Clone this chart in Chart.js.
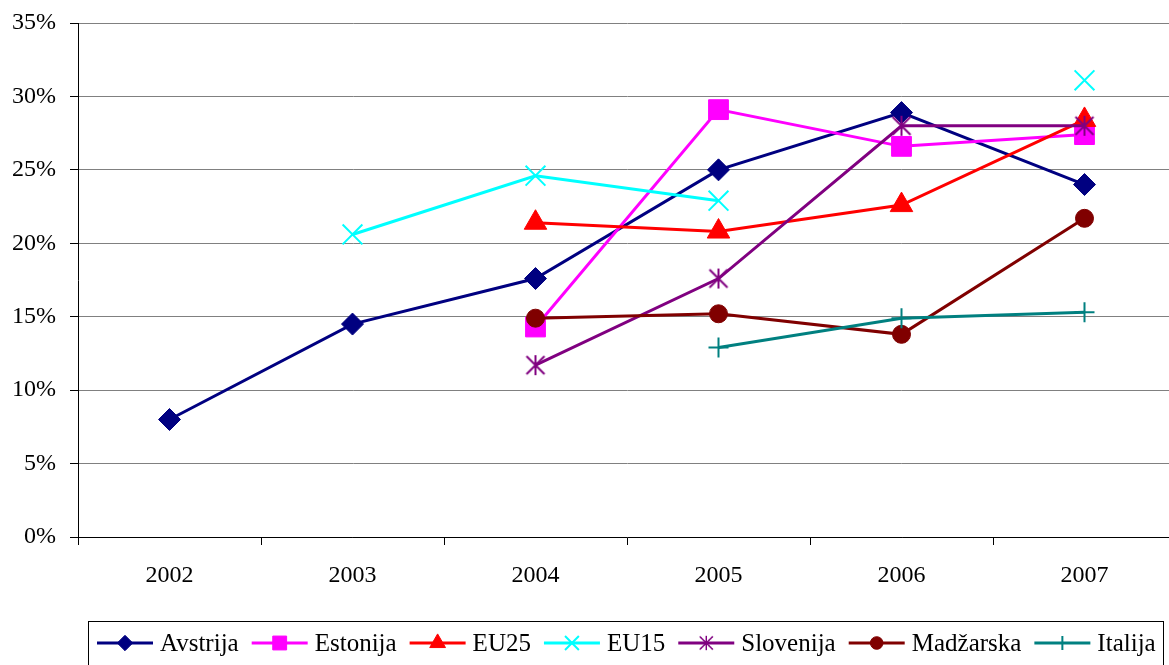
<!DOCTYPE html>
<html>
<head>
<meta charset="utf-8">
<script src="https://cdn.jsdelivr.net/npm/chart.js@4/dist/chart.umd.min.js"></script>
<style>
  html, body { margin: 0; padding: 0; background: #fff; overflow: hidden }
  canvas { display: block }
</style>
</head>
<body>
<canvas id="c" width="1192" height="665"></canvas>
<script>
const years = ['2002', '2003', '2004', '2005', '2006', '2007']
const yTicks = [0, 5, 10, 15, 20, 25, 30, 35]

// shares in %
const avstrija = [8.0, 14.5, 17.6, 25.0, 28.9, 24.0]
const estonija = [null, null, 14.3, 29.1, 26.6, 27.4]
const eu25 = [null, null, 21.4, 20.8, 22.6, 28.4]
const eu15 = [null, 20.6, 24.6, 22.9, null, 31.1]
const slovenija = [null, null, 11.7, 17.6, 28.0, 28.0]
const madzarska = [null, null, 14.9, 15.2, 13.8, 21.7]
const italija = [null, null, null, 12.9, 14.9, 15.3]

const serif = '"Liberation Serif", "Times New Roman", serif'

// excel style asterisk: an X with a vertical bar
function asterisk (color, size) {
  const c = document.createElement('canvas')
  c.width = size
  c.height = size
  const g = c.getContext('2d')
  g.strokeStyle = color
  g.lineWidth = 2
  g.beginPath()
  g.moveTo(2, 2); g.lineTo(size - 2, size - 2)
  g.moveTo(size - 2, 2); g.lineTo(2, size - 2)
  g.moveTo(size / 2, 1); g.lineTo(size / 2, size - 1)
  g.stroke()
  return c
}

function series (label, data, color, style, r, bw) {
  return {
    label,
    data,
    borderColor: color,
    backgroundColor: color,
    pointBackgroundColor: color,
    pointBorderColor: color,
    borderWidth: 3,
    pointStyle: style,
    pointRadius: r,
    pointBorderWidth: bw,
    pointHoverRadius: r,
    spanGaps: false,
    tension: 0
  }
}

const datasets = [
  series('Avstrija', avstrija, '#000080', 'rectRot', 11, 1),
  series('Estonija', estonija, '#FF00FF', 'rect', 14, 1),
  series('EU25', eu25, '#FF0000', 'triangle', 13, 1),
  series('EU15', eu15, '#00FFFF', 'crossRot', 14, 2),
  series('Slovenija', slovenija, '#800080', asterisk('#800080', 22), 11, 2),
  series('Madžarska', madzarska, '#800000', 'circle', 9, 1),
  series('Italija', italija, '#008080', 'cross', 10, 2)
]
// later series sit on top, as in the original
datasets.forEach((d, i) => { d.order = datasets.length - i })

const boxLegend = {
  id: 'boxLegend',
  afterDraw (chart) {
    const ctx = chart.ctx
    const cy = 643
    ctx.save()
    ctx.strokeStyle = '#000'
    ctx.lineWidth = 1
    ctx.strokeRect(88.5, 621.5, 1075, 60)
    ctx.font = '25px ' + serif
    ctx.textBaseline = 'middle'
    let x = 97
    chart.data.datasets.forEach(ds => {
      ctx.strokeStyle = ds.borderColor
      ctx.fillStyle = ds.borderColor
      ctx.lineWidth = 3
      ctx.beginPath()
      ctx.moveTo(x, cy)
      ctx.lineTo(x + 56, cy)
      ctx.stroke()
      ctx.lineWidth = ds.pointBorderWidth
      if (typeof ds.pointStyle === 'string') {
        Chart.helpers.drawPoint(ctx, {
          pointStyle: ds.pointStyle,
          radius: ds.pointRadius * 0.7,
          rotation: 0,
          borderWidth: ds.pointBorderWidth
        }, x + 28, cy)
      } else {
        ctx.drawImage(ds.pointStyle, x + 20, cy - 8, 16, 16)
      }
      ctx.fillStyle = '#000'
      ctx.fillText(ds.label, x + 63, cy + 1)
      x += 63 + ctx.measureText(ds.label).width + 13
    })
    ctx.restore()
  }
}

new Chart(document.getElementById('c'), {
  type: 'line',
  data: { labels: years, datasets },
  plugins: [boxLegend],
  options: {
    responsive: false,
    animation: false,
    layout: { padding: { top: 23, right: 0, bottom: 0, left: 0 } },
    plugins: { legend: { display: false }, tooltip: { enabled: false } },
    scales: {
      x: {
        offset: true,
        afterFit: s => {
          s.height = 128
          s.paddingLeft = 0
          s.paddingRight = 0
        },
        grid: {
          offset: true,
          drawOnChartArea: false,
          drawTicks: true,
          tickLength: 8,
          color: '#000'
        },
        border: { color: '#000', width: 1 },
        ticks: {
          color: '#000',
          padding: 16,
          maxRotation: 0,
          font: { family: serif, size: 24 }
        }
      },
      y: {
        min: 0,
        max: 35,
        afterFit: s => {
          s.width = 78
          s.paddingTop = 0
          s.paddingBottom = 0
        },
        afterBuildTicks: s => { s.ticks = yTicks.map(v => ({ value: v })) },
        grid: {
          color: '#808080',
          lineWidth: 1,
          tickLength: 8,
          tickColor: '#000'
        },
        border: { color: '#000', width: 1 },
        ticks: {
          color: '#000',
          padding: 14,
          font: { family: serif, size: 24 },
          callback: v => v + '%'
        }
      }
    }
  }
})
</script>
</body>
</html>
